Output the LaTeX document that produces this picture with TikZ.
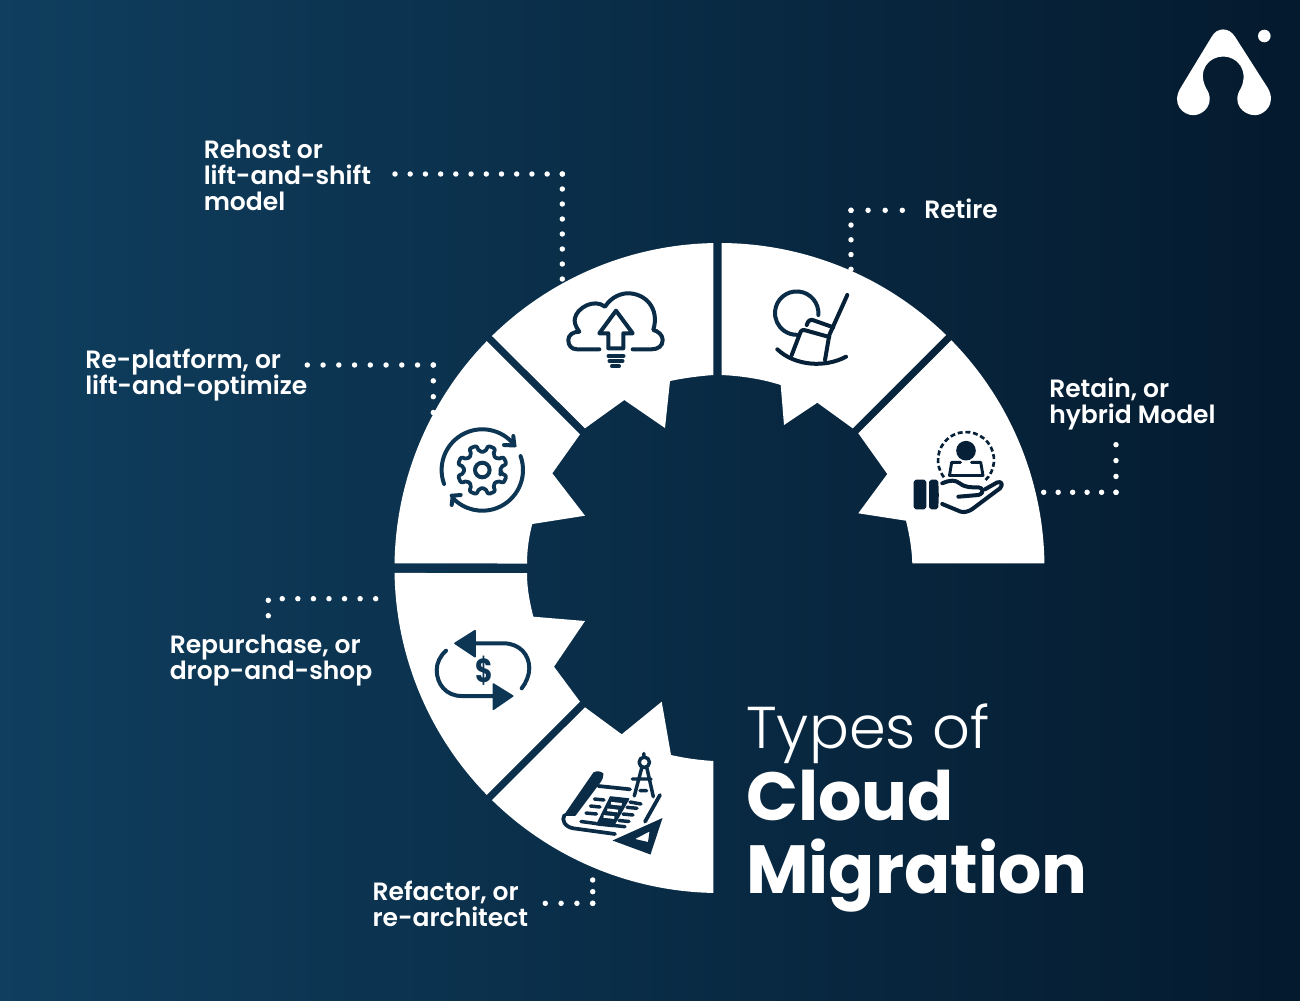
\documentclass[tikz,border=0pt]{standalone}
\usepackage{fontspec}
\setmainfont{Poppins}
\newfontfamily\labfont{Poppins SemiBold}
\newfontfamily\lightfont{Poppins Light}
\definecolor{bgL}{HTML}{0F3E5E}
\definecolor{bgM}{HTML}{0A2E49}
\definecolor{bgR}{HTML}{041A2E}
\definecolor{icoL}{HTML}{0D3654}
\definecolor{icoM}{HTML}{0A2C47}
\definecolor{icoR}{HTML}{062038}
\AtBeginDocument{\lineskiplimit=-30pt\relax\normallineskiplimit=-30pt\relax}
\tikzset{
  seg/.style={fill=white},
  ico/.style={draw=#1,line width=3pt,line cap=round,line join=round,fill=none},
  icofill/.style={fill=#1,draw=#1,line width=1.2pt,line join=round},
  dotline/.style={draw=white,line width=4.1pt,line cap=round,dash pattern=on 0pt off #1},
  lab/.style={text=white,anchor=base west,inner sep=0pt,align=left,font=\labfont\fontsize{18.75}{19.5}\selectfont},
}
\begin{document}
\begin{tikzpicture}[x=0.75pt,y=-0.75pt]
\path[use as bounding box] (0,0) rectangle (1300,1000);
\shade[left color=bgL,middle color=bgM,right color=bgR] (0,0) rectangle (1300,1000);
\coordinate (c) at (719.5,568);
% ring segments
\path[seg] ([shift={(c)}]-91.09:325) arc[start angle=-91.09,end angle=-134.44,radius=325] -- (585,428.3) -- (624.3,400) -- (665,428) -- (670,381) .. controls (684,378) and (700,376) .. (713.3,375) -- cycle;
\path[seg] ([shift={(c)}]-89.61:325) arc[start angle=-89.61,end angle=-45.81,radius=325] -- (852.7,428.3) -- (817.3,402.7) -- (784,425) -- (780.7,385) .. controls (762,379) and (742,376) .. (721.7,375) -- cycle;
\path[seg] ([shift={(c)}]-0.83:325) arc[start angle=-0.83,end angle=-44.49,radius=325] -- (858.3,433.3) -- (887.3,474) -- (858.3,513.3) -- (906,520.7) .. controls (909.5,535) and (912,550) .. (912.3,563.3) -- cycle;
\path[seg] ([shift={(c)}]-135.72:325) arc[start angle=-135.72,end angle=-179.2,radius=325] -- (527,563.5) .. controls (527,550) and (529,536) .. (532.3,524) -- (585,515.7) -- (552.3,473.3) -- (580,434.3) -- cycle;
\path[seg] ([shift={(c)}]179.12:325) arc[start angle=179.12,end angle=135.72,radius=325] -- (580,701.7) -- (554,666.7) -- (585,621) -- (533.3,616.7) .. controls (530,603) and (527,590) .. (527,573) -- cycle;
\path[seg] ([shift={(c)}]134.44:325) arc[start angle=134.44,end angle=91.09,radius=325] -- (713.3,761) .. controls (698,760) and (684,758) .. (671,755) -- (661.7,701.7) -- (621.7,734.3) -- (585,707.3) -- cycle;
% cloud icon
\draw[ico=icoM] (599.3,349.3) -- (577,349.3) .. controls (571,349.3) and (568.3,345) .. (568.3,340) .. controls (568.3,335) and (573,331.7) .. (579.3,331.7) .. controls (575,326) and (574,321) .. (575,318) .. controls (577,308) and (594,298) .. (605,306.7) .. controls (612,296) and (622,293.3) .. (628,293.3) .. controls (645,293.3) and (660,308) .. (653.3,330) .. controls (658,331) and (662.7,335) .. (662.7,340) .. controls (662.7,346) and (658,349.3) .. (651.7,349.3) -- (632.7,349.3);
\draw[ico=icoM] (616,310.7) -- (632.7,333.3) -- (623.3,333.3) -- (623.3,348.3) -- (608.3,348.3) -- (608.3,333.3) -- (599.3,333.3) -- cycle;
\draw[ico=icoM] (608.5,356) -- (623.5,356) (609.5,361) -- (622.5,361) (612,366.2) -- (619,366.2);
% rocking chair icon
\draw[ico=icoM] (818.3,315) arc[start angle=5,end angle=-270,radius=21.7];
\draw[ico=icoR] (847.3,295) -- (829.3,335) -- (825,360);
\draw[ico=icoR] (806.7,325) .. controls (808,320) and (811,319) .. (814,320.5) -- (833.3,327.3);
\draw[ico=icoR] (791.7,355) -- (800,333.3) .. controls (801,330) and (803,329.5) .. (806,330.5) -- (829.3,337);
\draw[ico=icoR] (777.3,349.3) .. controls (795,366) and (825,368) .. (846,356.7);
% gear icon
\coordinate (g) at (482.3,470);
\draw[ico=icoL] (g) circle[radius=7.3];
\draw[draw=icoL,line width=2.8pt,line join=round,rounded corners=1.5pt] ([shift={(g)}]8.5:18.5)
  \foreach \a in {22.5,67.5,...,337.5} { -- ([shift={(g)}]\a-13:18.5) -- ([shift={(g)}]\a-9:25) -- ([shift={(g)}]\a+9:25) -- ([shift={(g)}]\a+13:18.5) } -- cycle;
\draw[ico=icoL] ([shift={(g)}]160:40.7) arc[start angle=160,end angle=323,radius=40.7] -- (504,445) (514.3,445) -- (513.3,436);
\draw[ico=icoL] ([shift={(g)}]-20:40.7) arc[start angle=-20,end angle=137,radius=40.7] -- (451.7,505) (451.7,495.7) -- (460.7,495);
% dollar icon
\fill[icofill=icoL] (455,643.3) -- (475,630.7) -- (475,656.7) -- cycle;
\fill[icofill=icoL] (512.7,696) -- (493.3,684) -- (493.3,709.3) -- cycle;
\draw[ico=icoL] (475,643.3) -- (503.3,643.3) .. controls (520,643.3) and (529.3,655) .. (529.3,668.3) .. controls (529.3,675) and (526,683) .. (521.7,688.3);
\draw[ico=icoL] (493.3,696) -- (461.7,696) .. controls (446,696) and (436.7,684) .. (436.7,670) .. controls (436.7,663) and (440,656) .. (446,650.7);
\node[anchor=center,inner sep=0pt,text=icoL,xscale=0.8,transform shape] (dollar) at (484,670.5) {\bfseries\fontsize{25}{25}\selectfont\$};
% blueprint icon
\fill[icofill=icoM] (594,773) .. controls (597,771.5) and (601,772) .. (602.7,774) .. controls (603,777) and (601,780) .. (600,781.7) -- (575,815) -- (565,815) -- cycle;
\draw[draw=icoM,line width=2.8pt,line cap=round,line join=round] (564.5,815) .. controls (561,820) and (565,827) .. (573.3,828.3) -- (615,834);
\draw[draw=icoM,line width=2.8pt,line cap=round] (598.3,786) -- (630,789.3) (660,795) -- (645,821.7);
\fill[icofill=icoM] (610.5,797) -- (628.5,799) -- (613,826.5) -- (596.8,824.8) -- cycle;
\draw[white,line width=2pt] (611,803.2) -- (621.7,804.4) (607.3,809.8) -- (618,811) (603.6,816.4) -- (614.3,817.6);
\draw[draw=icoM,line width=2.6pt,line cap=round] (594.5,799) -- (604,800) (590.5,806) -- (600,807) (586,813) -- (596.5,814) (581,821.5) -- (596,823.5)
  (630,802) -- (641,804) (637,808.3) -- (627,807.3) (633,815) -- (623,814) (629,821.5) -- (619,820.5) (625,826.7) -- (614,825.5);
\draw[ico=icoM,line width=2.6pt] (644.3,762.3) circle[radius=5.2] (643.8,753.5) -- (643.8,756) (641.7,768) -- (634.3,796) (646.9,768) -- (653.3,796.7) (632.3,779) -- (651,779) (640,790.7) -- (646.7,790.7);
\fill[icoM,even odd rule] (662.5,818) -- (650.5,854.5) -- (612.5,840.5) -- cycle (649.5,831.5) -- (648,842) -- (635,839) -- cycle;
% hand icon
\fill[icofill=icoR,rounded corners=1.2pt] (914.5,480.5) rectangle (925.5,508.5);
\fill[icofill=icoR,rounded corners=1.2pt] (929.8,480.5) -- (937.5,480.5) -- (938,495) -- (937.5,508.5) -- (929.8,508.5) -- cycle;
\draw[ico=icoR] (942.3,483.3) .. controls (950,480) and (955,479.5) .. (960,483.5) .. controls (966,488) and (972,487.3) .. (978.3,487.3) .. controls (983,487.5) and (985,493) .. (978.3,495) -- (958.3,496.7);
\draw[ico=icoR] (985,489.3) -- (997,482.5) .. controls (1002,480.5) and (1003,485) .. (1000,488.3) -- (973.3,508.3) .. controls (967,513) and (962,513) .. (956.7,510) -- (942.3,504);
\fill[icofill=icoR] (966,450.7) circle[radius=9];
\draw[ico=icoR,line width=2.2pt] (960.5,462.3) -- (951.7,462.3) -- (949.5,475.5) -- (983,475.5) -- (980.7,462.3) -- (971.5,462.3);
\draw[draw=icoR,line width=2pt,dash pattern=on 3.7pt off 2.1pt] ([shift={(966,460)}]142:28) arc[start angle=142,end angle=407,radius=28];
% logo
\fill[white] (1180.5,88) -- (1211.7,36.7) .. controls (1217,27) and (1229,27) .. (1235,36.7) -- (1267.8,88) .. controls (1277,104) and (1264,115.2) .. (1255,115.2) .. controls (1243,115.2) and (1231,103) .. (1241,88) .. controls (1249,70) and (1237,56.5) .. (1223.3,56.5) .. controls (1209,56.5) and (1197,70) .. (1206,88) .. controls (1216,103) and (1204,115.2) .. (1193.3,115.2) .. controls (1183,115.2) and (1171,104) .. (1180.5,88) -- cycle;
\fill[white] (1264.3,36) circle[radius=6.3];
% labels
\node[lab] (rehost) at (203.5,210.5) {Rehost or\\lift-and-shift\\model};
\node[lab] (replat) at (85,394.3) {Re-platform, or\\lift-and-optimize};
\node[lab] (repur) at (169.5,679.3) {Repurchase, or\\drop-and-shop};
\node[lab] (refac) at (372.3,926.5) {Refactor, or\\re-architect};
\node[lab] (retire) at (924,218.5) {Retire};
\node[lab] (retain) at (1049,423.5) {Retain, or\\hybrid Model};
% title
\node[anchor=base west,inner sep=0pt,text=white,font=\lightfont\fontsize{44.3}{45}\selectfont] (t1) at (746,748) {Types of};
\node[anchor=base west,inner sep=0pt,text=white,font=\bfseries\fontsize{51.1}{52}\selectfont] (t2) at (746,820) {Cloud};
\node[anchor=base west,inner sep=0pt,text=white,font=\bfseries\fontsize{51.1}{52}\selectfont] (t3) at (746,893) {Migration};
% dotted connectors
\coordinate (d1a) at (395,174); \coordinate (d1b) at (562.6,174); \coordinate (d1c) at (562.3,280);
\coordinate (d1k) at (562.3,174);
\draw[dotline=11.41pt] (d1a) -- (d1b);
\draw[dotline=11.25pt] (d1k) -- (d1c);
\coordinate (d2a) at (307.3,365); \coordinate (d2b) at (433.7,365); \coordinate (d2k) at (433.3,365); \coordinate (d2c) at (433.3,413);
\draw[dotline=11.81pt] (d2a) -- (d2b);
\draw[dotline=11.88pt] (d2k) -- (d2c);
\coordinate (d3a) at (375.7,598.7); \coordinate (d3b) at (281.8,598.7); \coordinate (d3c) at (268.3,600.3); \coordinate (d3d) at (268.3,616.2);
\draw[dotline=11.68pt] (d3a) -- (d3b);
\draw[dotline=11.55pt] (d3c) -- (d3d);
\coordinate (d4a) at (545.3,903.3); \coordinate (d4b) at (593,903.3); \coordinate (d4k) at (592.7,903.3); \coordinate (d4c) at (592.7,879.5);
\draw[dotline=11.85pt] (d4a) -- (d4b);
\draw[dotline=8.74pt] (d4k) -- (d4c);
\coordinate (d5a) at (902.3,210.3); \coordinate (d5b) at (850.7,210.3); \coordinate (d5k) at (851,210.3); \coordinate (d5c) at (851,269.8);
\draw[dotline=12.83pt] (d5a) -- (d5b);
\draw[dotline=11.06pt] (d5k) -- (d5c);
\coordinate (d6a) at (1043.7,492.3); \coordinate (d6b) at (1116.4,492.3); \coordinate (d6k) at (1116,492.3); \coordinate (d6c) at (1116,444.2);
\draw[dotline=10.85pt] (d6a) -- (d6b);
\draw[dotline=11.9pt] (d6k) -- (d6c);
\end{tikzpicture}
\end{document}
